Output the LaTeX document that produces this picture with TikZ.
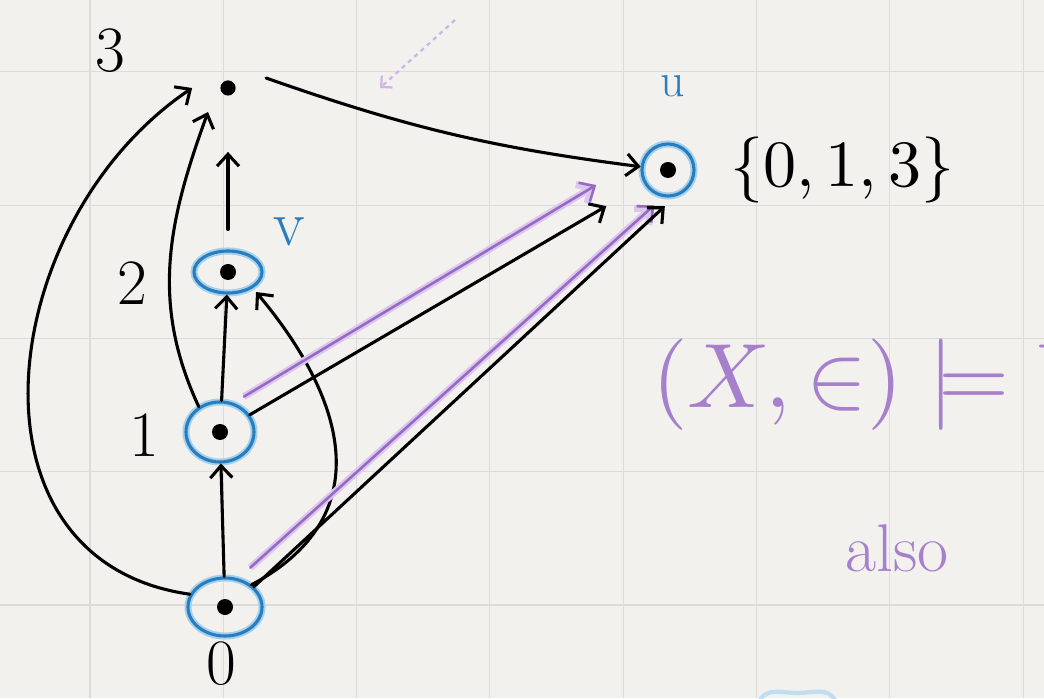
\documentclass[tikz,border=0pt]{standalone}
\usetikzlibrary{arrows.meta,shapes.geometric}

\definecolor{paper}{RGB}{242,241,238}
\definecolor{gridgray}{RGB}{219,219,216}
\definecolor{ringblue}{RGB}{40,125,190}
\definecolor{ringhalo}{RGB}{165,208,236}
\definecolor{penpurple}{RGB}{150,105,195}
\definecolor{purplehalo}{RGB}{220,198,240}

\tikzset{
  vtx/.style={ellipse, draw=ringblue, line width=2.2pt, inner sep=0pt,
    preaction={draw=ringhalo, line width=5pt},
    path picture={\fill[black] (path picture bounding box.center) circle (0.2cm);}},
  dot/.style={circle, fill=black, inner sep=0pt, minimum size=0.38cm},
  edge/.style={-{Straight Barb[length=0.3cm,width=0.55cm]}, line width=2.2pt, line cap=round},
  hl/.style={edge, draw=penpurple, line width=1.8pt,
    preaction={draw=purplehalo, line width=5pt}},
  lbl/.style={font=\fontsize{46}{46}\selectfont},
  tag/.style={text=ringblue, font=\fontsize{46}{46}\selectfont},
  note/.style={text=penpurple!85, font=\fontsize{48}{48}\selectfont}
}

\begin{document}
\begin{tikzpicture}[x=0.025cm, y=0.025cm]
        % Paper
        \fill[paper] (0,0) rectangle (1044,698);
        \useasboundingbox (0,0) rectangle (1044,698);
        \foreach \gx in {0,...,7}
            \draw[gridgray, line width=0.8pt] ({90+133.3*\gx},0) -- ++(0,698);
        \foreach \gy in {0,...,4}
            \draw[gridgray, line width=0.8pt] (0,{93+133.3*\gy}) -- ++(1044,0);

        % Vertices
        \node[dot] (v3) at (228,610) {};
        \node[vtx, minimum width=1.7cm, minimum height=1.05cm] (v2) at (228,426) {};
        \node[vtx, minimum width=1.7cm, minimum height=1.5cm] (v1) at (220,266) {};
        \node[vtx, minimum width=1.85cm, minimum height=1.45cm] (v0) at (225,91) {};
        \node[vtx, minimum width=1.3cm, minimum height=1.3cm] (vu) at (668,528) {};

        % Labels
        \node[lbl] (l3) at (110,647) {3};
        \node[lbl] (l2) at (132,415) {2};
        \node[lbl] (l1) at (144,263) {1};
        \node[lbl] (l0) at (221,34) {0};
        \node[tag] (lv) at (289,466) {v};
        \node[tag, font=\fontsize{34}{34}\selectfont] (lu) at (673,612) {u};
        \node[anchor=west, inner sep=0pt] (set) at (730,528) {\scalebox{4.7}{$\{0,1,3\}$}};

        % Order arrows
        \draw[edge] (v0) -- (v1);
        \draw[edge] (v1) -- (v2);
        \draw[edge, shorten <=0.5cm, shorten >=1.4cm] (v2) -- (v3);
        \draw[edge] (v1.130) to[out=115, in=250] ([shift={(-0.5cm,-0.6cm)}]v3.center);
        \draw[edge] (v0.160) to[out=172, in=214, looseness=1.2] ([xshift=-0.7cm]v3.west);
        \draw[edge] (v0.40) to[out=28, in=310, looseness=1.25] ([shift={(0.7cm,-0.5cm)}]v2.center);
        \draw[edge, bend right=6] ([shift={(0.95cm,0.25cm)}]v3.center) to (vu);

        % Arrows to u
        \draw[hl, shorten <=0.3cm, shorten >=1.4cm] (v1.65) -- (vu.150);
        \draw[edge, shorten >=1.1cm] (v1.30) -- (vu);
        \draw[hl, shorten <=0.4cm, shorten >=0.3cm] (v0.65) -- (vu.-100);
        \draw[edge, shorten >=0.35cm] (v0.35) -- (vu.-75);

        % Purple notes
        \coordinate (d1) at (455,678);
        \coordinate (d2) at (380,610);
        \draw[purplehalo!80!penpurple, line width=1.6pt, dashed, -{Straight Barb[length=0.2cm,width=0.4cm]}] (d1) -- (d2);
        \node[note, font=\normalsize, anchor=west, inner sep=0pt] (sat) at (652,313) {\scalebox{6.5}{$(X,\in)\models V$}};
        \node[note] (also) at (897,150) {also};

        % Blue fragment at bottom edge
        \draw[ringhalo!70, line width=3pt] (760,-2) to[out=60, in=180] (797,5) to[out=0, in=120] (835,-2);
    \end{tikzpicture}
\end{document}
